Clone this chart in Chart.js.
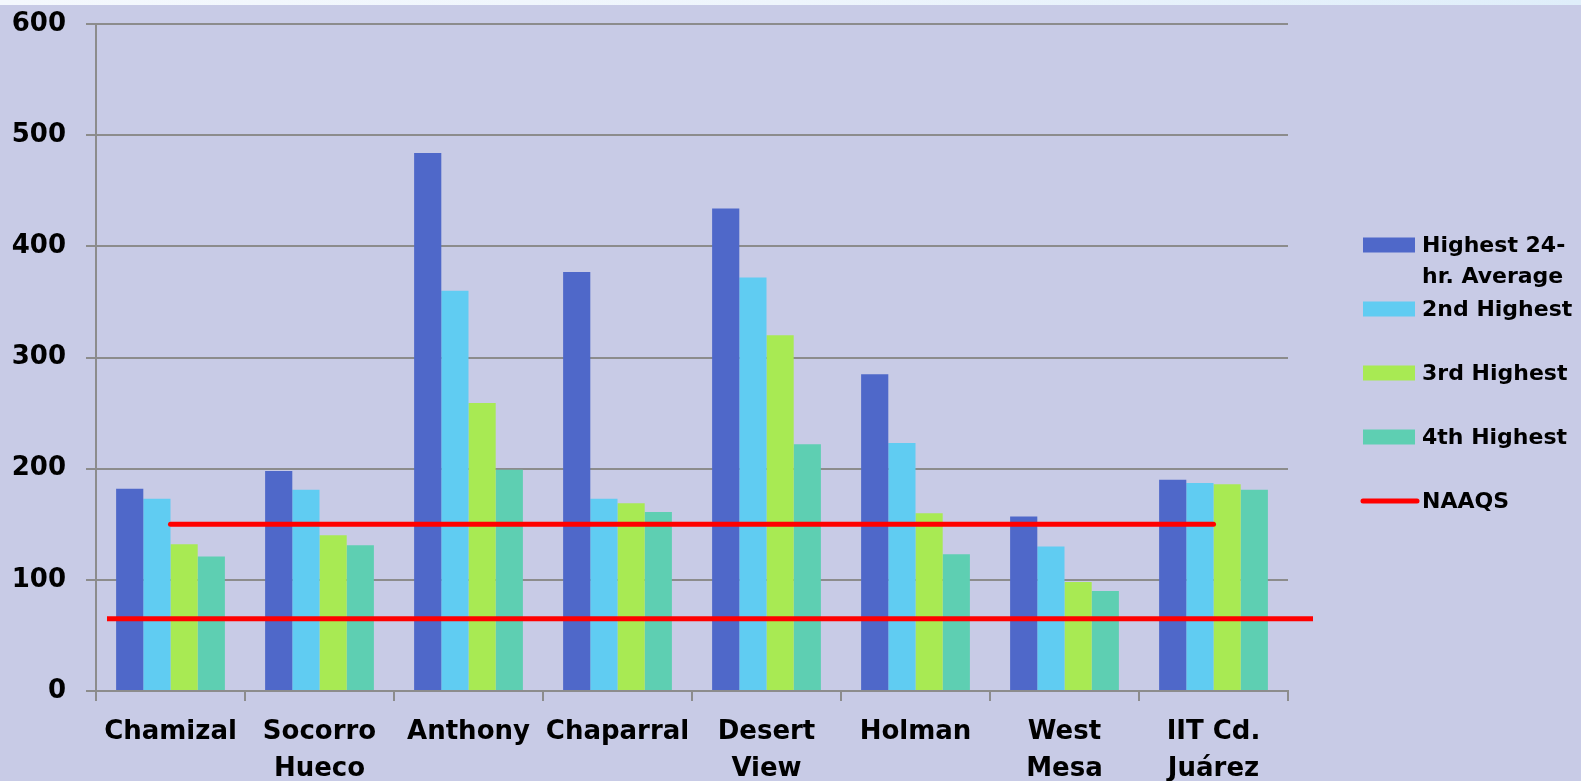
<!DOCTYPE html>
<html lang="en">
  <head>
    <meta charset="UTF-8" />
    <title>PM10 24-hr averages</title>
    <script src="https://cdn.jsdelivr.net/npm/chart.js@4.4.1/dist/chart.umd.min.js"></script>
    <style>
      html, body { margin: 0; padding: 0; background: #c8cbe6; overflow: hidden; }
      #top { position: absolute; left: 0; top: 0; width: 1581px; height: 5px;
             background: linear-gradient(to right, #f4f8fd, #eef5fc 50%, #dfeefa); }
      #wrap { position: absolute; left: 0; top: 0; width: 1581px; height: 781px; }
    </style>
  </head>
  <body>
    <div id="wrap"><canvas id="myChart" width="1581" height="781"></canvas></div>
    <div id="top"></div>
    <script>
      const sites = [
        "Chamizal", ["Socorro", "Hueco"], "Anthony", "Chaparral",
        ["Desert", "View"], "Holman", ["West", "Mesa"], ["IIT Cd.", "Juárez"]
      ];
      const highest = [182, 198, 484, 377, 434, 285, 157, 190];
      const second = [173, 181, 360, 173, 372, 223, 130, 187];
      const third = [132, 140, 259, 169, 320, 160, 98, 186];
      const fourth = [121, 131, 199, 161, 222, 123, 90, 181];
      const naaqs = [150, 150, 150, 150, 150, 150, 150, 150];
      const lowerLine = 65;
      const yTicks = [0, 100, 200, 300, 400, 500, 600];

      const font = "'DejaVu Sans', sans-serif";
      const gridColor = "#8c8c8c";

      // second red line runs past the plot on both sides
      const lowerLinePlugin = {
        id: "lowerLine",
        afterDatasetsDraw(chart) {
          const c = chart.ctx;
          const a = chart.chartArea;
          const y = chart.scales.y.getPixelForValue(lowerLine);
          c.save();
          c.strokeStyle = "#ff0000";
          c.lineWidth = 5;
          c.beginPath();
          c.moveTo(a.left + 11, y);
          c.lineTo(a.right + 25, y);
          c.stroke();
          c.restore();
        },
      };

      const legendPlugin = {
        id: "sideLegend",
        afterDraw(chart) {
          const c = chart.ctx;
          const a = chart.chartArea;
          const x = a.right + 75;
          let y = a.top + 221;
          c.save();
          c.font = "bold 22px " + font;
          c.textBaseline = "middle";
          c.fillStyle = "#000";
          chart.data.datasets.forEach((ds) => {
            if (ds.type === "line") {
              c.strokeStyle = ds.borderColor;
              c.lineWidth = 5;
              c.lineCap = "round";
              c.beginPath();
              c.moveTo(x, y);
              c.lineTo(x + 54, y);
              c.stroke();
            } else {
              c.fillStyle = ds.backgroundColor;
              c.fillRect(x, y - 7.5, 52, 15);
            }
            c.fillStyle = "#000";
            ds.label.split("\n").forEach((t, i) => {
              c.fillText(t, x + 59, y + 1 + i * 31);
            });
            y += 64;
          });
          c.restore();
        },
      };

      const ctx = document.getElementById("myChart").getContext("2d");
      const myChart = new Chart(ctx, {
        data: {
          labels: sites,
          datasets: [
            { type: "bar", label: "Highest 24-\nhr. Average", data: highest, backgroundColor: "#4f68c9", order: 1 },
            { type: "bar", label: "2nd Highest", data: second, backgroundColor: "#60ccf2", order: 1 },
            { type: "bar", label: "3rd Highest", data: third, backgroundColor: "#a8ea53", order: 1 },
            { type: "bar", label: "4th Highest", data: fourth, backgroundColor: "#5ecfb2", order: 1 },
            {
              type: "line", label: "NAAQS", data: naaqs, borderColor: "#ff0000",
              borderWidth: 5, pointRadius: 0, borderCapStyle: "round", fill: false, order: 0,
            },
          ],
        },
        options: {
          responsive: false,
          animation: false,
          layout: { padding: { left: 0, right: 293, top: 24, bottom: 0 } },
          datasets: { bar: { categoryPercentage: 0.73, barPercentage: 1.0 } },
          plugins: { legend: { display: false }, tooltip: { enabled: false } },
          scales: {
            x: {
              afterFit: (s) => { s.height = 90; s.paddingLeft = 0; s.paddingRight = 0; },
              grid: { drawOnChartArea: false, color: gridColor, lineWidth: 2, tickLength: 10 },
              border: { color: gridColor, width: 2 },
              ticks: { color: "#000", font: { family: font, size: 26, weight: "bold", lineHeight: 1.42 }, padding: 13, maxRotation: 0, autoSkip: false },
            },
            y: {
              min: 0,
              max: 600,
              afterFit: (s) => { s.width = 96; s.paddingTop = 0; s.paddingBottom = 0; },
              afterBuildTicks: (s) => { s.ticks = yTicks.map((v) => ({ value: v })); },
              grid: { color: gridColor, lineWidth: 2, tickLength: 10 },
              border: { color: gridColor, width: 2 },
              ticks: { color: "#000", font: { family: font, size: 26, weight: "bold" }, padding: 20 },
            },
          },
        },
        plugins: [lowerLinePlugin, legendPlugin],
      });
    </script>
  </body>
</html>
